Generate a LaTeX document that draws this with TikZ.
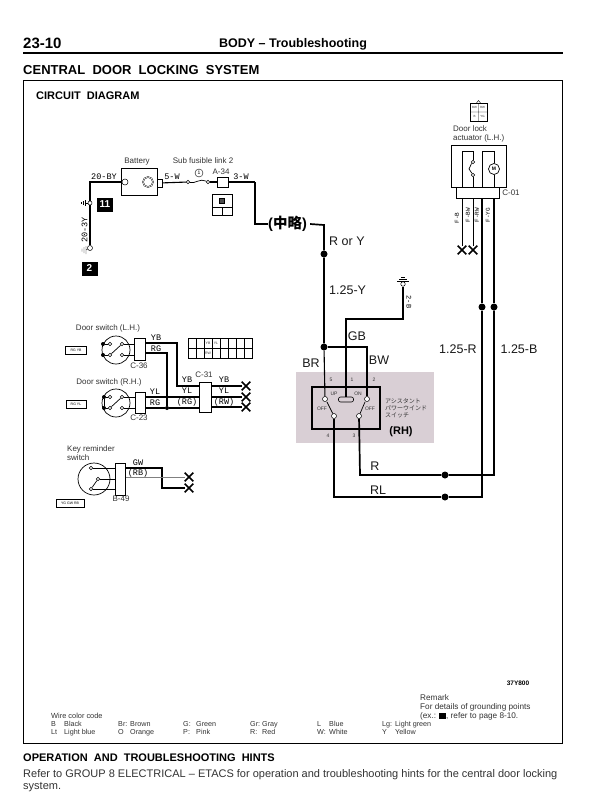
\documentclass[tikz,border=0pt]{standalone}
\usepackage{fontspec}
\setmainfont{Liberation Sans}
\newfontfamily\wirefont{Liberation Mono}
\newfontfamily\cjkfont{Noto Sans CJK JP}
\usetikzlibrary{positioning,shapes.misc}
\definecolor{panelgray}{HTML}{D9CFD5}
\definecolor{inkgray}{HTML}{333333}
\begin{document}
\begin{tikzpicture}[x=1pt,y=-1pt]
    \tikzstyle{wire} = [draw, line width=1.1pt]
    \tikzstyle{thinwire} = [draw, line width=0.7pt]
    \tikzstyle{heavywire} = [draw, line width=1.7pt]
    \tikzstyle{conn} = [draw, fill=white, line width=0.7pt, inner sep=0pt]
    \tikzstyle{term} = [draw, circle, fill=white, inner sep=0pt, minimum size=3.5pt, line width=0.5pt]
    \tikzstyle{dot} = [circle, fill=black, inner sep=0pt, minimum size=7pt]
    \tikzstyle{smalldot} = [circle, fill=black, inner sep=0pt, minimum size=4pt]
    \tikzstyle{xmark} = [cross out, draw, line width=1.6pt, inner sep=0pt, minimum size=7pt]
    \tikzstyle{wirelabel} = [font=\wirefont\fontsize{8.5}{9}\selectfont, inner sep=0pt]
    \tikzstyle{biglabel} = [font=\fontsize{12.5}{13}\selectfont, inner sep=0pt, text=black!90]
    \tikzstyle{tiny} = [font=\fontsize{8}{9}\selectfont, inner sep=0pt, text=inkgray]
    \tikzstyle{micro} = [font=\fontsize{5}{6}\selectfont, inner sep=0pt, text=inkgray]
    \tikzstyle{plug} = [draw, line width=0.6pt, inner sep=0pt, font=\fontsize{3.5}{4}\selectfont]
    \tikzstyle{gndbox} = [fill=black, text=white, font=\bfseries\fontsize{10}{10}\selectfont, inner sep=0pt, minimum height=14pt]
    \useasboundingbox (0,0) rectangle (602,800);
    \fill[white] (0,0) rectangle (602,800);
    % page head
    \node (pageno) [anchor=west, inner sep=0pt, font=\bfseries\fontsize{15}{15}\selectfont] at (23,43) {23-10};
    \node (pagehead) [inner sep=0pt, font=\bfseries\fontsize{12.5}{13}\selectfont] at (293,44) {BODY -- Troubleshooting};
    \draw[line width=1.5pt] (23,53) -- (563,53);
    \node (systitle) [anchor=west, inner sep=0pt, font=\bfseries\fontsize{13}{13}\selectfont] at (23,70) {CENTRAL\ \ DOOR\ \ LOCKING\ \ SYSTEM};
    \draw[line width=0.8pt] (23,80) rectangle (562,743);
    \node (circtitle) [anchor=west, inner sep=0pt, font=\bfseries\fontsize{11}{11}\selectfont] at (36,96) {CIRCUIT\ \ DIAGRAM};
    % battery part
    \node (battery) [draw, line width=0.6pt, minimum width=36pt, minimum height=27pt, inner sep=0pt] at (139,182) {};
    \node (batlabel) [tiny] at (137,162) {Battery};
    \node (fuselabel) [tiny] at (203,161) {Sub fusible link 2};
    \node (bata) [term, minimum size=6pt] at (125,182) {};
    \node (batb) [draw, circle, double, inner sep=0pt, minimum size=10pt] at (148,182) {};
    \node (batc) [conn, minimum width=5pt, minimum height=8pt] at (159.5,183) {};
    \node (fusea) [term] at (188,182) {};
    \node (fuseb) [term] at (208,182) {};
    \node (fuseno) [draw, circle, inner sep=0pt, minimum size=8pt, font=\fontsize{5}{5}\selectfont] at (199,173) {1};
    \node (a34) [conn, minimum width=11pt, minimum height=10pt] at (222.5,182) {};
    \node (a34label) [tiny] at (221,172) {A-34};
    \node (a34plug) [draw, line width=0.6pt, minimum width=20pt, minimum height=21pt, inner sep=0pt] at (222,205) {};
    \draw[line width=0.5pt] (212,207) -- (232,207) (222,207) -- (222,215.5);
    \node (a34pin) [draw, fill=black!70, minimum size=5pt, inner sep=0pt] at (222,201) {};
    \coordinate (gnda) at (90,203);
    \coordinate (gndb) at (90,248);
    \coordinate (batleft) at (90,182);
    \coordinate (w3a) at (255,182);
    \coordinate (w3b) at (255,224);
    \node (chuuryaku) [anchor=west, inner sep=0pt, font=\bfseries\fontsize{14.5}{15}\selectfont] at (268,224) {(\cjkfont\bfseries 中略\rmfamily)};
    \node (gnda0) [term, minimum size=4pt] at (gnda) {};
    \node (gndb0) [term, minimum size=5pt] at (gndb) {};
    \node (box11) [gndbox, minimum width=16pt] at (105,204.5) {11};
    \node (box2) [gndbox, minimum width=16pt] at (89.5,268.5) {2};
    \draw[wire] (bata) -- (batleft) -- (gnda0) -- (gndb0);
    \draw[wire] (batc) -- (fusea);
    \draw[heavywire] (w3a) -- (w3b) -- (chuuryaku);
    \draw[wire] (a34) -- (w3a);
    \draw[thinwire] (fusea) .. controls (195,184) and (200,178) .. (fuseb);
    \draw[wire] (fuseb) -- (a34);
    \draw[thin] (gnda0) -- (85,203) (85,200) -- (85,206) (83,201) -- (83,205) (81,202) -- (81,204);
    \draw[thin] (gndb0) -- (86,250) (86,246) -- (86,254) (84,247) -- (84,253) (82,248.5) -- (82,251.5);
    \node (lab20by) [wirelabel] at (104,177) {20-BY};
    \node (lab203y) [wirelabel, rotate=90] at (84.5,230) {20-3Y};
    \node (lab5w) [wirelabel] at (172,177) {5-W};
    \node (lab3w) [wirelabel] at (241,177) {3-W};
    % main feed
    \node (jfeed) [dot] at (324,254) {};
    \node (jsplit) [dot] at (324,347) {};
    \coordinate (feedtop) at (324,225);
    \draw[heavywire] (chuuryaku.east) ++(3,0) -- (feedtop) -- (jfeed) -- (jsplit);
    \node (labry) [biglabel, anchor=west] at (329,241) {R or Y};
    \node (lab125y) [biglabel, anchor=west] at (329,290) {1.25-Y};
    \node (labgb) [biglabel] at (357,336) {GB};
    \node (labbr) [biglabel] at (311,363) {BR};
    \node (labbw) [biglabel] at (379,360) {BW};
    % ground 2-B
    \node (gndc) [term, minimum size=4.5pt] at (403,284) {};
    \draw[thin] (397,281) -- (409,281) (399,279) -- (407,279) (401,277) -- (405,277);
    \node (lab2b) [wirelabel, rotate=-90, font=\wirefont\fontsize{7}{7}\selectfont] at (409,302) {2-B};
    % assist switch
    \node (panel) [fill=panelgray, minimum width=138pt, minimum height=71pt, inner sep=0pt] at (365,407.5) {};
    \node (swbox) [draw, line width=1.1pt, minimum width=68pt, minimum height=42pt, inner sep=0pt] at (346,408) {};
    \node (sw5) [term, minimum size=5pt] at (325,399) {};
    \node (sw2) [term, minimum size=5pt] at (367,399) {};
    \node (sw4) [term, minimum size=5pt] at (334,416) {};
    \node (sw3) [term, minimum size=5pt] at (359,416) {};
    \node (swbar) [draw, rounded corners=2pt, minimum width=15pt, minimum height=5pt, inner sep=0pt, line width=0.6pt] at (346,399.5) {};
    \draw[thinwire] (sw4) -- (327,402);
    \draw[thinwire] (sw3) -- (365,402);
    \coordinate (gbbend) at (346,319);
    \coordinate (gbtop) at (403,319);
    \coordinate (bwright) at (367,347);
    \draw[wire] (gndc) -- (gbtop) -- (gbbend) -- (swbar);
    \draw[wire] (jsplit) -- (sw5);
    \draw[wire] (jsplit) -- (bwright) -- (sw2);
    \node (n5) [micro] at (331,380) {5};
    \node (n1) [micro] at (352,380) {1};
    \node (n2) [micro] at (374,380) {2};
    \node (n4) [micro] at (328,436) {4};
    \node (n3) [micro] at (354,436) {3};
    \node (tup) [micro] at (334,394) {UP};
    \node (tdn) [micro] at (358,394) {ON};
    \node (toffa) [micro] at (322,409) {OFF};
    \node (toffb) [micro] at (370,409) {OFF};
    \node (tjp) [micro, anchor=west, align=left, font=\cjkfont\fontsize{6}{7}\selectfont] at (385,408) {アシスタント\\パワーウインド\\スイッチ};
    \node (labrh) [inner sep=0pt, font=\bfseries\fontsize{11}{11}\selectfont] at (401,432) {(RH)};
    % wires to the actuator
    \node (jr) [dot] at (445,475) {};
    \node (jrl) [dot] at (445,497) {};
    \node (jtopr) [dot] at (482,307) {};
    \node (jtopb) [dot] at (494,307) {};
    \coordinate (rlb) at (334,497);
    \coordinate (rlc) at (482,497);
    \coordinate (rb) at (360,475);
    \coordinate (rc) at (494,475);
    \draw[heavywire] (sw4) -- (rlb) -- (jrl) -- (rlc) -- (jtopr);
    \draw[heavywire] (sw3) -- (rb) -- (jr) -- (rc) -- (jtopb);
    \node (labr) [biglabel] at (375,466) {R};
    \node (labrl) [biglabel] at (378,490) {RL};
    \node (lab125r) [biglabel] at (458,349) {1.25-R};
    \node (lab125b) [biglabel] at (519,349) {1.25-B};
    % door lock actuator
    \node (actbox) [draw, line width=0.7pt, minimum width=55pt, minimum height=42pt, inner sep=0pt] at (478.5,166) {};
    \node (c01) [conn, minimum width=43pt, minimum height=11pt] at (477.5,193) {};
    \node (c01label) [tiny] at (511,193) {C-01};
    \node (actlabel) [tiny, align=left, anchor=west] at (453,134) {Door lock\\actuator (L.H.)};
    \node (actplug) [draw, minimum width=17pt, minimum height=18pt, inner sep=0pt, line width=0.5pt] at (478.5,112) {};
    \draw[line width=0.4pt] (470,112) -- (487,112) (478.5,103) -- (478.5,121) (476.5,103) -- (478.5,100.5) -- (480.5,103);
    \node (plugbw) [micro, font=\fontsize{3}{3}\selectfont] at (474.5,107.5) {BW};
    \node (plugrw) [micro, font=\fontsize{3}{3}\selectfont] at (482.5,107.5) {RW};
    \node (plugb) [micro, font=\fontsize{3}{3}\selectfont] at (474.5,116.5) {B};
    \node (plugyg) [micro, font=\fontsize{3}{3}\selectfont] at (482.5,116.5) {YG};
    \node (motor) [draw, circle, line width=0.7pt, inner sep=0pt, minimum size=11pt, font=\bfseries\fontsize{5}{5}\selectfont, fill=white] at (494,169) {M};
    \node (acta) [term] at (473,162) {};
    \node (actb) [term] at (473,175) {};
    \node (xa) [xmark] at (462,250) {};
    \node (xb) [xmark] at (473,250) {};
    \draw[thinwire] (462,187) -- (462,151) -- (473,151) -- (acta);
    \draw[thinwire] (actb) -- (473,187);
    \draw[thinwire] (actb) -- (469,169) -- (acta.south west);
    \draw[thinwire] (482,187) -- (482,151) -- (494,151) -- (motor);
    \draw[thinwire] (motor) -- (494,187);
    \draw[thinwire] (462,198.5) -- (xa);
    \draw[thinwire] (473,198.5) -- (xb);
    \draw[wire] (482,198.5) -- (jtopr);
    \draw[wire] (494,198.5) -- (jtopb);
    \node (labfb) [wirelabel, rotate=90, font=\wirefont\fontsize{6}{6}\selectfont] at (457,218) {F-B};
    \node (labfbw) [wirelabel, rotate=90, font=\wirefont\fontsize{6}{6}\selectfont] at (468,215) {F-BW};
    \node (labfrw) [wirelabel, rotate=90, font=\wirefont\fontsize{6}{6}\selectfont] at (477,215) {F-RW};
    \node (labfyg) [wirelabel, rotate=90, font=\wirefont\fontsize{6}{6}\selectfont] at (488,215) {F-YG};
    % door switch L.H.
    \node (dslh) [tiny] at (108,328) {Door switch (L.H.)};
    \node (plugl) [plug, minimum width=21pt, minimum height=8pt] at (76,350) {RG YB};
    \node (circl) [draw, circle, line width=0.7pt, minimum size=28pt, inner sep=0pt] at (116,350) {};
    \node (dotla) [smalldot] at (103,344) {};
    \node (dotlb) [smalldot] at (103,355) {};
    \node (tla) [term] at (110,344) {};
    \node (tlb) [term] at (110,355) {};
    \node (tlc) [term] at (122,344) {};
    \node (tld) [term] at (122,355) {};
    \node (c36) [conn, minimum width=11pt, minimum height=22pt] at (140,349) {};
    \node (c36label) [tiny] at (139,366) {C-36};
    \draw[thinwire] (dotla) -- (tla);
    \draw[thinwire] (dotlb) -- (tlb);
    \draw[thinwire] (tlb) -- (tlc);
    \draw[thinwire] (tlc) -- (c36.west |- tlc);
    \draw[thinwire] (tld) -- (c36.west |- tld);
    \node (plan) [draw, line width=0.6pt, minimum width=64pt, minimum height=20pt, inner sep=0pt] at (220,348) {};
    \foreach \x in {196,204,212,220,228,236,244}
        \draw[line width=0.4pt] (\x,338) -- (\x,358);
    \draw[line width=0.4pt] (188,348) -- (252,348);
    \node (planyb) [micro, font=\fontsize{3.5}{4}\selectfont] at (208,343) {YB};
    \node (planyl) [micro, font=\fontsize{3.5}{4}\selectfont] at (216,343) {YL};
    \node (planrw) [micro, font=\fontsize{3.5}{4}\selectfont] at (208,353) {RW};
    % door switch R.H.
    \node (dsrh) [tiny] at (109,382) {Door switch (R.H.)};
    \node (plugr) [plug, minimum width=20pt, minimum height=8pt] at (76,404) {RG YL};
    \node (circr) [draw, circle, line width=0.7pt, minimum size=28pt, inner sep=0pt] at (116,403) {};
    \node (dotra) [smalldot] at (104,397) {};
    \node (dotrb) [smalldot] at (104,408) {};
    \node (tra) [term] at (110,397) {};
    \node (trb) [term] at (110,408) {};
    \node (trc) [term] at (122,397) {};
    \node (trd) [term] at (122,408) {};
    \node (c23) [conn, minimum width=10pt, minimum height=21pt] at (140,402.5) {};
    \node (c23label) [tiny] at (139,418) {C-23};
    \draw[thinwire] (dotra) -- (tra);
    \draw[thinwire] (dotrb) -- (trb);
    \draw[thinwire] (trb) -- (trc);
    \draw[thinwire] (dotra) -- (dotrb);
    \draw[thinwire] (trc) -- (c23.west |- trc);
    \draw[thinwire] (trd) -- (c23.west |- trd);
    % C-31 junction
    \node (c31) [conn, minimum width=12pt, minimum height=30pt] at (205,397) {};
    \node (c31label) [tiny] at (204,375) {C-31};
    \node (jrg) [smalldot] at (167,408) {};
    \coordinate (ybup) at (177,343);
    \coordinate (ybdown) at (177,386);
    \coordinate (rgup) at (167,353);
    \draw[wire] (c36.east |- ybup) -- (ybup) -- (ybdown) -- (c31.west |- ybdown);
    \draw[wire] (c36.east |- rgup) -- (rgup) -- (jrg);
    \draw[wire] (c23.east |- 0,397) -- (c31.west |- 0,397);
    \draw[wire] (c23.east |- jrg) -- (jrg) -- (c31.west |- jrg);
    \node (xya) [xmark] at (246,386) {};
    \node (xyb) [xmark] at (246,397) {};
    \node (xyc) [xmark] at (246,407) {};
    \draw[wire] (c31.east |- xya) -- (xya);
    \draw[wire] (c31.east |- xyb) -- (xyb);
    \draw[wire] (c31.east |- xyc) -- (xyc);
    \node (labyba) [wirelabel] at (156,338) {YB};
    \node (labrga) [wirelabel] at (156,349) {RG};
    \node (labylb) [wirelabel] at (155,392) {YL};
    \node (labrgb) [wirelabel] at (155,403) {RG};
    \node (labybc) [wirelabel] at (187,380) {YB};
    \node (labylc) [wirelabel] at (187,391) {YL};
    \node (labrgc) [wirelabel] at (187,402) {(RG)};
    \node (labybd) [wirelabel] at (224,380) {YB};
    \node (labyld) [wirelabel] at (224,391) {YL};
    \node (labrwd) [wirelabel] at (224,402) {(RW)};
    % key reminder switch
    \node (keylabel) [tiny, align=left, anchor=west] at (67,453.5) {Key reminder\\switch};
    \node (circk) [draw, circle, line width=0.7pt, minimum size=32pt, inner sep=0pt] at (94,479) {};
    \node (tka) [term] at (91,468) {};
    \node (tkb) [term] at (98,479) {};
    \node (tkc) [term] at (91,489) {};
    \node (b49) [conn, minimum width=10pt, minimum height=32pt] at (120.5,479) {};
    \node (b49label) [tiny] at (121,499) {B-49};
    \node (plugk) [plug, line width=0.9pt, minimum width=28pt, minimum height=8pt] at (70,503.5) {YG GW RB};
    \draw[thinwire] (tkc) -- (tkb);
    \draw[thinwire] (tka) -- (b49.west |- tka);
    \draw[thinwire] (tkb) -- (b49.west |- tkb);
    \draw[thinwire] (tkc) -- (b49.west |- tkc);
    \node (xka) [xmark] at (189,477) {};
    \node (xkb) [xmark] at (189,488) {};
    \coordinate (gwa) at (162,468);
    \coordinate (gwb) at (162,488);
    \draw[wire] (b49.east |- gwa) -- (gwa) -- (gwb) -- (xkb);
    \draw[line width=0.6pt, black!50] (b49.east |- xka) -- (xka);
    \node (labgw) [wirelabel] at (138,463) {GW};
    \node (labrb) [wirelabel] at (138,473) {(RB)};
    % remarks and colour code
    \node (figno) [inner sep=0pt, font=\bfseries\fontsize{6.5}{7}\selectfont] at (518,683) {37Y800};
    \node (remark) [tiny, anchor=north west, align=left, font=\fontsize{8.2}{9.3}\selectfont] at (420,694) {Remark\\For details of grounding points\\(ex.: \textcolor{black}{\rule{7pt}{6pt}}, refer to page 8-10.};
    \node (codehead) [tiny, anchor=west, font=\fontsize{7.4}{8}\selectfont] at (51,716) {Wire color code};
    \tikzstyle{code} = [tiny, anchor=base west, font=\fontsize{7.2}{8}\selectfont]
    \foreach \keyx/\namex/\keya/\namea/\keyb/\nameb in {51/64/B/Black/Lt/Light blue, 118/130/Br:/Brown/O/Orange, 183/196/G:/Green/P:/Pink, 250/262/Gr:/Gray/R:/Red, 317/329/L/Blue/W:/White, 382/395/Lg:/Light green/Y/Yellow} {
        \node [code] at (\keyx,726.5) {\keya};
        \node [code] at (\namex,726.5) {\namea};
        \node [code] at (\keyx,734) {\keyb};
        \node [code] at (\namex,734) {\nameb};
    }
    % hints
    \node (hintshead) [anchor=west, inner sep=0pt, font=\bfseries\fontsize{11}{11}\selectfont] at (23,758) {OPERATION\ \ AND\ \ TROUBLESHOOTING\ \ HINTS};
    \node (hintstext) [anchor=north west, inner sep=0pt, align=left, text=inkgray, font=\fontsize{11}{12.5}\selectfont] at (23,769) {Refer to GROUP 8 ELECTRICAL -- ETACS for operation and troubleshooting hints for the central door locking\\system.};
\end{tikzpicture}
\end{document}
